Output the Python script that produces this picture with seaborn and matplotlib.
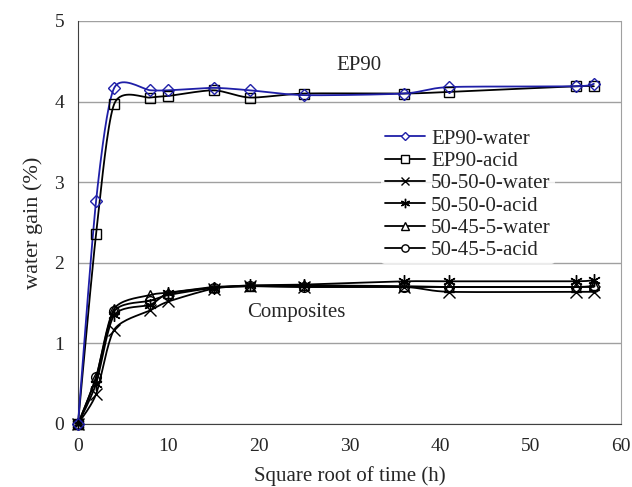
import numpy as np
import pandas as pd
import matplotlib
matplotlib.use("Agg")
import matplotlib.pyplot as plt
import seaborn as sns
from matplotlib.lines import Line2D

# data
time_sqrt = [0, 2, 4, 8, 10, 15, 19, 25, 36, 41, 55, 57]
ep90_water = [0, 2.77, 4.17, 4.14, 4.14, 4.17, 4.14, 4.08, 4.10, 4.18, 4.19, 4.22]
ep90_acid = [0, 2.36, 3.97, 4.05, 4.07, 4.14, 4.05, 4.10, 4.10, 4.12, 4.19, 4.19]
c50_50_0_water = [0, 0.37, 1.17, 1.41, 1.52, 1.68, 1.71, 1.70, 1.70, 1.64, 1.64, 1.64]
c50_50_0_acid = [0, 0.50, 1.35, 1.48, 1.62, 1.69, 1.72, 1.73, 1.77, 1.77, 1.77, 1.79]
c50_45_5_water = [0, 0.58, 1.43, 1.60, 1.63, 1.70, 1.71, 1.72, 1.71, 1.70, 1.70, 1.72]
c50_45_5_acid = [0, 0.58, 1.40, 1.53, 1.60, 1.69, 1.71, 1.70, 1.70, 1.70, 1.70, 1.70]

series_names = ["EP90-water", "EP90-acid", "50-50-0-water",
                "50-50-0-acid", "50-45-5-water", "50-45-5-acid"]
series_vals = [ep90_water, ep90_acid, c50_50_0_water,
               c50_50_0_acid, c50_45_5_water, c50_45_5_acid]

df = pd.DataFrame({"t": time_sqrt * len(series_names),
                   "gain": sum(series_vals, []),
                   "series": np.repeat(series_names, len(time_sqrt))})

styles = {
    "EP90-water": dict(color="#1f1fa8", marker="D", ms=6),
    "EP90-acid": dict(color="black", marker="s", ms=7),
    "50-50-0-water": dict(color="black", marker="x", ms=8),
    "50-50-0-acid": dict(color="black", marker=(6, 2, 0), ms=9),
    "50-45-5-water": dict(color="black", marker="^", ms=7),
    "50-45-5-acid": dict(color="black", marker="o", ms=7),
}


def smooth(x, y, n=20, k=8.0):
    # Excel-like smoothed line (cardinal bezier)
    pts = np.column_stack([x, y]).astype(float)
    pts = np.vstack([pts[0], pts, pts[-1]])
    out = []
    tt = np.linspace(0, 1, n)[:, None]
    for i in range(1, len(pts) - 2):
        p0, p1, p2, p3 = pts[i - 1], pts[i], pts[i + 1], pts[i + 2]
        b1 = p1 + (p2 - p0) / k
        b2 = p2 - (p3 - p1) / k
        seg = (1 - tt) ** 3 * p1 + 3 * (1 - tt) ** 2 * tt * b1 \
            + 3 * (1 - tt) * tt ** 2 * b2 + tt ** 3 * p2
        out.append(seg)
    out = np.vstack(out)
    return out[:, 0], out[:, 1]


sns.set_style("white")
plt.rcParams["font.family"] = ["Liberation Serif", "DejaVu Serif"]

fig = plt.figure(figsize=(6.32, 4.87), dpi=100)
ax = fig.add_axes([0.1234, 0.1294, 0.8592, 0.8275])

for name in series_names[::-1]:
    sub = df[df["series"] == name]
    st = styles[name]
    xs, ys = smooth(sub["t"].values, sub["gain"].values)
    ax.plot(xs, ys, color=st["color"], lw=1.3, zorder=3, clip_on=False)
    ax.plot(sub["t"], sub["gain"], ls="none", marker=st["marker"], ms=st["ms"],
            mfc="none", mec=st["color"], mew=1.0, zorder=4, clip_on=False)

ax.set_xlim(0, 60)
ax.set_ylim(0, 5)
ax.set_xticks(range(0, 61, 10))
ax.set_yticks(range(0, 6))
ax.yaxis.grid(True, color="#a0a0a0", lw=1.0)
ax.set_axisbelow(True)
ax.spines["top"].set_visible(False)
ax.spines["right"].set_color("#a0a0a0")
ax.spines["left"].set_color("#404040")
ax.spines["bottom"].set_color("#404040")
ax.tick_params(axis="both", direction="out", length=5, width=1, color="#404040",
               labelsize=14, pad=5)
ax.set_xlabel("Square root of time (h)", fontsize=15, labelpad=8)
ax.set_ylabel("water gain (%)", fontsize=16, labelpad=8)

ax.text(31, 4.45, "EP90", fontsize=15, ha="center", va="center")
ax.text(24.1, 1.38, "Composites", fontsize=15, ha="center", va="center")

handles = []
for name in series_names:
    st = styles[name]
    handles.append(Line2D([0], [0], color=st["color"], lw=1.3, marker=st["marker"],
                          ms=st["ms"] * 0.75, mfc="white", mec=st["color"]))
leg = ax.legend(handles, series_names, loc="upper left", bbox_to_anchor=(0.558, 0.742),
                frameon=True, fontsize=15, handlelength=1.9, handletextpad=0.3,
                labelspacing=0.13, borderaxespad=0, borderpad=0.2)
leg.get_frame().set_edgecolor("none")
leg.get_frame().set_facecolor("white")

fig.savefig("out.png", dpi=100)
